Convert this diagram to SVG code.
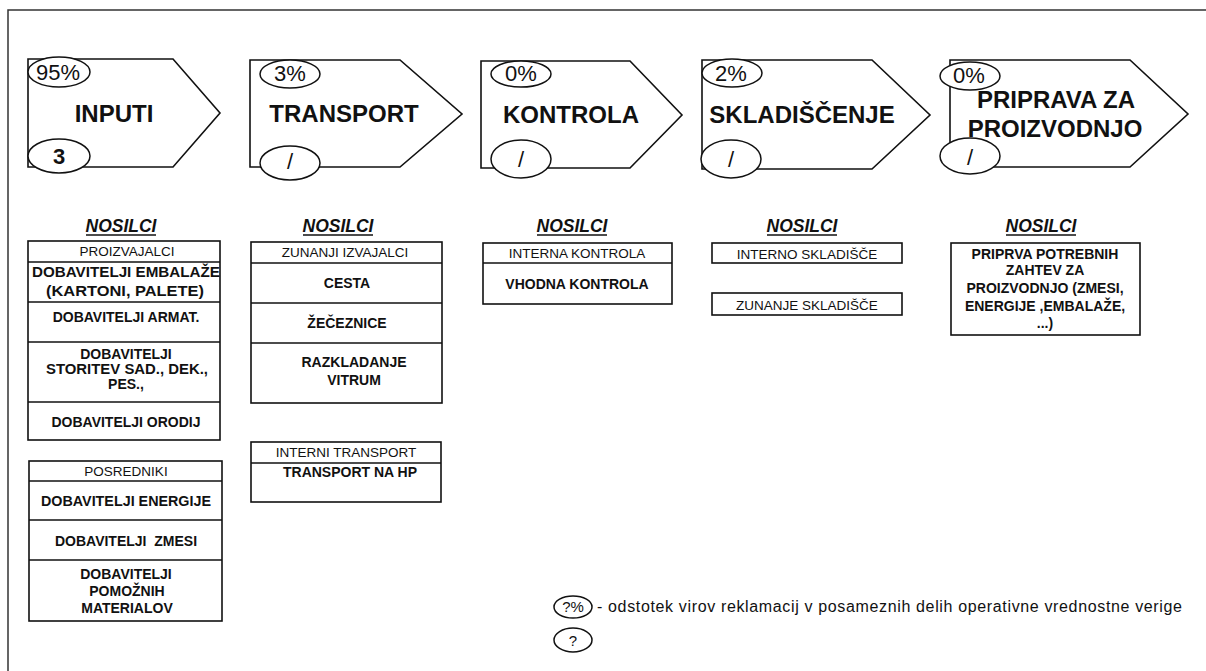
<svg xmlns="http://www.w3.org/2000/svg" width="1206" height="671" viewBox="0 0 1206 671">
  <style>
    .frame { fill: none; stroke: #333; stroke-width: 1.5; }
    .chev { fill: #fff; stroke: #111; stroke-width: 1.6; stroke-linejoin: miter; }
    .oval { fill: #fff; stroke: #111; stroke-width: 1.5; }
    .box { fill: #fff; stroke: #111; stroke-width: 1.6; }
    .div { stroke: #111; stroke-width: 1.6; }
    .ul { stroke: #111; stroke-width: 1.4; }
    text { font-family: "Liberation Sans", Arial, sans-serif; fill: #111; text-anchor: middle; }
    .stage { font-size: 24px; font-weight: bold; }
    .pct { font-size: 22px; }
    .cnt { font-size: 22px; }
    .head { font-size: 17.5px; font-weight: bold; font-style: italic; }
    .hdr { font-size: 13.5px; }
    .item { font-size: 14px; font-weight: bold; }
    .legend { font-size: 16px; text-anchor: start; }
    .lg { font-size: 15px; }
  </style>

  <!-- page frame (top and left rules) -->
  <path class="frame" d="M8,671 V10 H1206"/>

  <!-- stage 1: INPUTI -->
  <g id="stage-inputi">
    <path class="chev" d="M28,59 H173 L220,113 L173,167 H28 Z"/>
    <text class="stage" x="114" y="122">INPUTI</text>
    <ellipse class="oval" cx="59" cy="72" rx="31" ry="15"/>
    <text class="pct" x="58" y="80">95%</text>
    <ellipse class="oval" cx="59" cy="156" rx="31" ry="17"/>
    <text class="cnt" x="59" y="164" font-weight="bold">3</text>
  </g>

  <!-- stage 2: TRANSPORT -->
  <g id="stage-transport">
    <path class="chev" d="M250,60 H400 L462,114 L400,167 H250 Z"/>
    <text class="stage" x="344" y="122">TRANSPORT</text>
    <ellipse class="oval" cx="290" cy="74" rx="30" ry="14"/>
    <text class="pct" x="290" y="81">3%</text>
    <ellipse class="oval" cx="290" cy="163" rx="30" ry="17"/>
    <text class="cnt" x="290" y="169">/</text>
  </g>

  <!-- stage 3: KONTROLA -->
  <g id="stage-kontrola">
    <path class="chev" d="M481,61 H630 L682,115 L630,168 H481 Z"/>
    <text class="stage" x="571" y="123">KONTROLA</text>
    <ellipse class="oval" cx="521" cy="74" rx="30" ry="13"/>
    <text class="pct" x="521" y="81">0%</text>
    <ellipse class="oval" cx="521" cy="159" rx="30" ry="19"/>
    <text class="cnt" x="521" y="167">/</text>
  </g>

  <!-- stage 4: SKLADIŠČENJE -->
  <g id="stage-skladiscenje">
    <path class="chev" d="M702,60 H872 L930,115 L872,169 H702 Z"/>
    <text class="stage" x="802" y="123">SKLADIŠČENJE</text>
    <ellipse class="oval" cx="732" cy="73" rx="30" ry="14"/>
    <text class="pct" x="731" y="81">2%</text>
    <ellipse class="oval" cx="731" cy="159" rx="30" ry="19"/>
    <text class="cnt" x="731" y="167">/</text>
  </g>

  <!-- stage 5: PRIPRAVA ZA PROIZVODNJO -->
  <g id="stage-priprava">
    <path class="chev" d="M950,60 H1130 L1188,114 L1130,167 H950 Z"/>
    <text class="stage" x="1056" y="108">PRIPRAVA ZA</text>
    <text class="stage" x="1055" y="137">PROIZVODNJO</text>
    <ellipse class="oval" cx="970" cy="76" rx="30" ry="14"/>
    <text class="pct" x="969" y="83">0%</text>
    <ellipse class="oval" cx="970" cy="156" rx="30" ry="18"/>
    <text class="cnt" x="970" y="165">/</text>
  </g>

  <!-- carriers under INPUTI -->
  <g id="nosilci-inputi">
    <text class="head" x="121" y="232">NOSILCI</text>
    <line class="ul" x1="86" y1="235" x2="156" y2="235"/>
  </g>
  <g id="list-proizvajalci">
    <rect class="box" x="28" y="241" width="192" height="199"/>
    <line class="div" x1="28" y1="262" x2="220" y2="262"/>
    <line class="div" x1="28" y1="302" x2="220" y2="302"/>
    <line class="div" x1="28" y1="342" x2="220" y2="342"/>
    <line class="div" x1="28" y1="402" x2="220" y2="402"/>
    <text class="hdr" x="127" y="256" font-size="12.5">PROIZVAJALCI</text>
    <text class="item" x="126" y="277" textLength="188" lengthAdjust="spacingAndGlyphs">DOBAVITELJI EMBALAŽE</text>
    <text class="item" x="125" y="296" textLength="158" lengthAdjust="spacingAndGlyphs">(KARTONI, PALETE)</text>
    <text class="item" x="126" y="322">DOBAVITELJI ARMAT.</text>
    <text class="item" x="126" y="359">DOBAVITELJI</text>
    <text class="item" x="127" y="374" textLength="162" lengthAdjust="spacingAndGlyphs">STORITEV SAD., DEK.,</text>
    <text class="item" x="126" y="389">PES.,</text>
    <text class="item" x="126" y="427">DOBAVITELJI ORODIJ</text>
  </g>
  <g id="list-posredniki">
    <rect class="box" x="29" y="461" width="193" height="160"/>
    <line class="div" x1="29" y1="481" x2="222" y2="481"/>
    <line class="div" x1="29" y1="520" x2="222" y2="520"/>
    <line class="div" x1="29" y1="560" x2="222" y2="560"/>
    <text class="hdr" x="126" y="476">POSREDNIKI</text>
    <text class="item" x="126" y="506" textLength="170" lengthAdjust="spacingAndGlyphs">DOBAVITELJI ENERGIJE</text>
    <text class="item" x="126" y="546" xml:space="preserve">DOBAVITELJI  ZMESI</text>
    <text class="item" x="126" y="579">DOBAVITELJI</text>
    <text class="item" x="127" y="596">POMOŽNIH</text>
    <text class="item" x="127" y="613">MATERIALOV</text>
  </g>

  <!-- carriers under TRANSPORT -->
  <g id="nosilci-transport">
    <text class="head" x="338" y="232">NOSILCI</text>
    <line class="ul" x1="303" y1="235" x2="373" y2="235"/>
  </g>
  <g id="list-zunanji">
    <rect class="box" x="251" y="242" width="191" height="161"/>
    <line class="div" x1="251" y1="263" x2="442" y2="263"/>
    <line class="div" x1="251" y1="303" x2="442" y2="303"/>
    <line class="div" x1="251" y1="343" x2="442" y2="343"/>
    <text class="hdr" x="345" y="257">ZUNANJI IZVAJALCI</text>
    <text class="item" x="347" y="288">CESTA</text>
    <text class="item" x="347" y="328">ŽEČEZNICE</text>
    <text class="item" x="354" y="367">RAZKLADANJE</text>
    <text class="item" x="354" y="385">VITRUM</text>
  </g>
  <g id="list-interni-transport">
    <rect class="box" x="251" y="442" width="190" height="60"/>
    <line class="div" x1="251" y1="463" x2="441" y2="463"/>
    <text class="hdr" x="346" y="457">INTERNI TRANSPORT</text>
    <text class="item" x="350" y="477">TRANSPORT NA HP</text>
  </g>

  <!-- carriers under KONTROLA -->
  <g id="nosilci-kontrola">
    <text class="head" x="572" y="232">NOSILCI</text>
    <line class="ul" x1="537" y1="235" x2="607" y2="235"/>
  </g>
  <g id="list-kontrola">
    <rect class="box" x="483" y="243" width="189" height="61"/>
    <line class="div" x1="483" y1="263" x2="672" y2="263"/>
    <text class="hdr" x="577" y="258">INTERNA KONTROLA</text>
    <text class="item" x="577" y="289">VHODNA KONTROLA</text>
  </g>

  <!-- carriers under SKLADIŠČENJE -->
  <g id="nosilci-skladiscenje">
    <text class="head" x="802" y="232">NOSILCI</text>
    <line class="ul" x1="767" y1="235" x2="837" y2="235"/>
  </g>
  <g id="box-interno-skladisce">
    <rect class="box" x="712" y="243" width="190" height="20"/>
    <text class="hdr" x="807" y="259">INTERNO SKLADIŠČE</text>
  </g>
  <g id="box-zunanje-skladisce">
    <rect class="box" x="712" y="293" width="190" height="22"/>
    <text class="hdr" x="807" y="310">ZUNANJE SKLADIŠČE</text>
  </g>

  <!-- carriers under PRIPRAVA ZA PROIZVODNJO -->
  <g id="nosilci-priprava">
    <text class="head" x="1041" y="232">NOSILCI</text>
    <line class="ul" x1="1006" y1="235" x2="1076" y2="235"/>
  </g>
  <g id="box-priprava">
    <rect class="box" x="951" y="243" width="189" height="92"/>
    <text class="item" x="1045" y="259">PRIPRVA POTREBNIH</text>
    <text class="item" x="1045" y="275">ZAHTEV ZA</text>
    <text class="item" x="1045" y="293">PROIZVODNJO (ZMESI,</text>
    <text class="item" x="1045" y="311">ENERGIJE ,EMBALAŽE,</text>
    <text class="item" x="1045" y="328">...)</text>
  </g>

  <!-- legend -->
  <g id="legend">
    <ellipse class="oval" cx="573" cy="607" rx="19" ry="11"/>
    <text class="lg" x="573" y="612">?%</text>
    <text class="legend" x="597" y="612" textLength="585" lengthAdjust="spacing">- odstotek virov reklamacij v posameznih delih operativne vrednostne verige</text>
    <ellipse class="oval" cx="573" cy="640" rx="19" ry="12"/>
    <text class="lg" x="573" y="646">?</text>
  </g>
</svg>
